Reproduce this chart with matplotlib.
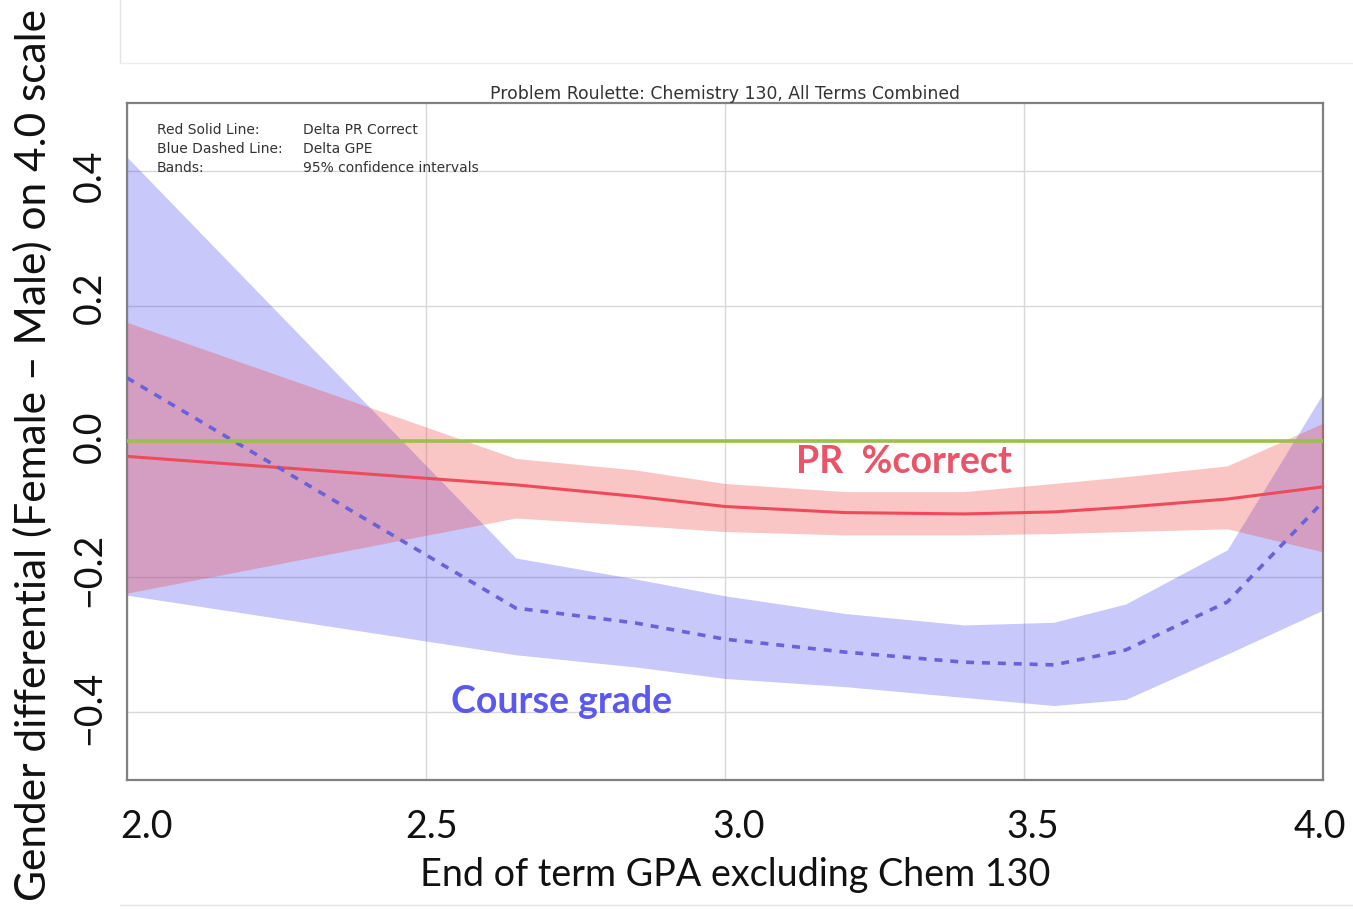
import matplotlib
matplotlib.use('Agg')
import matplotlib.pyplot as plt
from matplotlib.lines import Line2D
from matplotlib.transforms import ScaledTranslation

# ---- data ----
gpa = [2.0, 2.65, 2.85, 3.0, 3.2, 3.4, 3.55, 3.67, 3.84, 4.0]

pr_mean = [-0.022, -0.064, -0.081, -0.096, -0.105, -0.107, -0.104, -0.097, -0.085, -0.067]
pr_low = [-0.224, -0.113, -0.124, -0.133, -0.138, -0.138, -0.136, -0.133, -0.129, -0.163]
pr_high = [0.176, -0.025, -0.042, -0.062, -0.074, -0.074, -0.062, -0.052, -0.036, 0.027]

gpe_mean = [0.094, -0.246, -0.268, -0.292, -0.311, -0.326, -0.330, -0.308, -0.237, -0.089]
gpe_low = [-0.227, -0.315, -0.333, -0.350, -0.362, -0.378, -0.390, -0.381, -0.314, -0.249]
gpe_high = [0.420, -0.172, -0.203, -0.228, -0.254, -0.271, -0.267, -0.240, -0.160, 0.071]

x_ticks = [2.0, 2.5, 3.0, 3.5, 4.0]
x_tick_labels = ['2.0', '2.5', '3.0', '3.5', '4.0']
y_ticks = [-0.4, -0.2, 0.0, 0.2, 0.4]
y_tick_labels = ['\u22120.4', '\u22120.2', '0.0', '0.2', '0.4']

title = 'Problem Roulette: Chemistry 130, All Terms Combined'
legend_keys = ['Red Solid Line:', 'Blue Dashed Line:', 'Bands:']
legend_vals = ['Delta PR Correct', 'Delta GPE', '95% confidence intervals']
xlabel = 'End of term GPA excluding Chem 130'
ylabel = 'Gender differential (Female \u2013 Male) on 4.0 scale'

big_font = ['Lato', 'DejaVu Sans']

W, H = 1353, 910
fig = plt.figure(figsize=(W / 100, H / 100), dpi=100)
fig.patch.set_facecolor('white')

# faint screenshot frame lines
fig.add_artist(Line2D([120 / W, 120 / W], [1, 1 - 62 / H], color='#e4e4e4', lw=1))
fig.add_artist(Line2D([120 / W, 1], [1 - 63 / H, 1 - 63 / H], color='#eeeeee', lw=1))
fig.add_artist(Line2D([120 / W, 1], [1 - 905 / H, 1 - 905 / H], color='#e4e4e4', lw=1))

AX_L, AX_R, AX_T, AX_B = 127, 1323, 103, 780
ax = fig.add_axes([AX_L / W, 1 - AX_B / H, (AX_R - AX_L) / W, (AX_B - AX_T) / H])
ax.set_xlim(2.0, 4.0)
ax.set_ylim(-0.5, 0.5)

ax.fill_between(gpa, gpe_low, gpe_high, color='#3535f0', alpha=0.27, lw=0, zorder=2)
ax.fill_between(gpa, pr_low, pr_high, color='#f03a3a', alpha=0.29, lw=0, zorder=3)
ax.plot(gpa, pr_mean, color='#ee4a5c', lw=2.2, zorder=4)
ax.plot(gpa, gpe_mean, color='#6a62d8', lw=2.6, ls=(0, (2.2, 2.2)), zorder=4)
ax.axhline(0.0, color='#9cc048', lw=2.6, zorder=5)

ax.set_xticks(x_ticks)
ax.set_xticklabels(x_tick_labels, fontsize=27, family=big_font, color='#111111')
ax.set_yticks(y_ticks)
ax.set_yticklabels(y_tick_labels, fontsize=27, family=big_font, color='#111111',
                   rotation=90, va='center')
ax.tick_params(axis='x', length=0, pad=21)
ax.tick_params(axis='y', length=0, pad=14)

# small horizontal shifts of the overlaid tick labels, as in the reference
x_shift_px = [20, 6, 14, 9, -3]
for lab, dx in zip(ax.get_xticklabels(), x_shift_px):
    lab.set_transform(lab.get_transform() + ScaledTranslation(dx / 100, 0, fig.dpi_scale_trans))
y_shift_px = [4, 7, 5, 8, -5]
for lab, dy in zip(ax.get_yticklabels(), y_shift_px):
    lab.set_transform(lab.get_transform() + ScaledTranslation(0, dy / 100, fig.dpi_scale_trans))

ax.grid(True, color='#d8d8d8', lw=1.0, ls='-')
ax.set_axisbelow(True)
for s in ax.spines.values():
    s.set_color('#808080')
    s.set_linewidth(1.6)

fig.text(735 / W, 1 - 875 / H, xlabel, fontsize=27.2, family=big_font, color='#111111',
         ha='center', va='center')
fig.text(33 / W, 1 - 455 / H, ylabel, fontsize=30.5, family=big_font, color='#111111',
         ha='center', va='center', rotation=90)

ax.set_title(title, fontsize=12.4, color='#333333', pad=3)

for i, (k, v) in enumerate(zip(legend_keys, legend_vals)):
    yy = 1 - (130 + 19 * i - AX_T) / (AX_B - AX_T)
    ax.text((157 - AX_L) / (AX_R - AX_L), yy, k, transform=ax.transAxes,
            fontsize=10, color='#333333', va='center', ha='left')
    ax.text((303 - AX_L) / (AX_R - AX_L), yy, v, transform=ax.transAxes,
            fontsize=10, color='#333333', va='center', ha='left')

ax.text(3.30, -0.03, 'PR  %correct', color='#ea5468', fontsize=27,
        fontweight='bold', family=big_font, ha='center', va='center', zorder=6)
ax.text(2.727, -0.385, 'Course grade', color='#5a58ee', fontsize=27,
        fontweight='bold', family=big_font, ha='center', va='center', zorder=6)

fig.savefig('out.png', dpi=100, facecolor='white')
